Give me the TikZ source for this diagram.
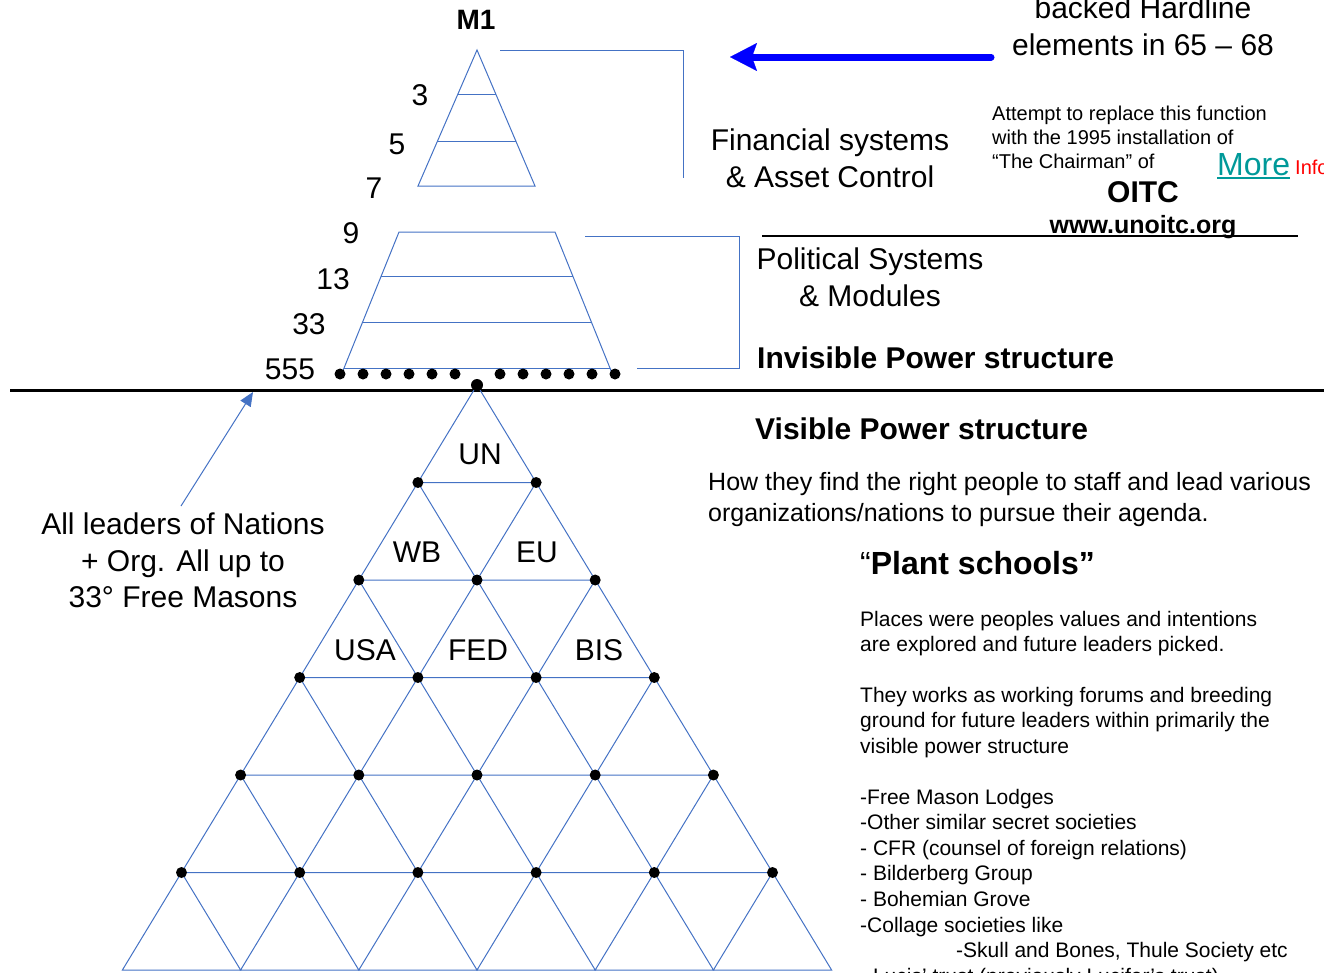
\documentclass[tikz,border=0pt]{standalone}
\usepackage{fontspec}
\setmainfont{Liberation Sans}
\usetikzlibrary{arrows.meta,calc}

\definecolor{gridblue}{RGB}{68,114,196}
\definecolor{pureblue}{RGB}{0,0,255}
\definecolor{moreteal}{RGB}{0,153,153}

\tikzset{
  gridln/.style={draw=gridblue, line width=1},
  bigtxt/.style={inner sep=0pt, font=\fontsize{30}{36.5}\selectfont},
  boldtxt/.style={inner sep=0pt, font=\fontsize{30}{36}\selectfont\bfseries},
  medtxt/.style={inner sep=0pt, font=\fontsize{25}{31}\selectfont},
  smalltxt/.style={inner sep=0pt, font=\fontsize{20}{24}\selectfont},
  listtxt/.style={inner sep=0pt, font=\fontsize{21}{25.6}\selectfont},
}

\begin{document}
\begin{tikzpicture}[x=1pt,y=1pt,yscale=-1,xscale=1]
	\useasboundingbox (0,0) rectangle (1324,972);
	
	%Shape: M1 pyramid
	\coordinate (m1top) at (477,50);
	\coordinate (m1left) at (418,186);
	\coordinate (m1right) at (535,186);
	\draw[gridln] (m1top) -- (m1left) -- (m1right) -- cycle;
	\draw[gridln] ($(m1top)!0.33!(m1left)$) -- ($(m1top)!0.33!(m1right)$);
	\draw[gridln] ($(m1top)!0.67!(m1left)$) -- ($(m1top)!0.67!(m1right)$);
	%Straight Lines: bracket financial
	\draw[gridln] (500,50) -- (683,50) -- (683,178);
	
	%Shape: political trapezoid
	\coordinate (tztl) at (399,232);
	\coordinate (tztr) at (555,232);
	\coordinate (tzbl) at (340,378);
	\coordinate (tzbr) at (614,378);
	\draw[gridln] (tzbl) -- (tztl) -- (tztr) -- (tzbr);
	\foreach \f in {0.308,0.623,0.932}
		\draw[gridln] ($(tztl)!\f!(tzbl)$) -- ($(tztr)!\f!(tzbr)$);
	%Straight Lines: bracket political
	\draw[gridln] (585,236) -- (739,236) -- (739,368) -- (637,368);
	
	%Shape: row of dots at 555
	\foreach \x in {340,363,386,409,432,455,500,523,546,569,592,615}
		\fill (\x,374) circle (5.5pt);
	
	%Straight Lines: visible / invisible border
	\draw[line width=3] (10,390) -- (1324,390);
	%Straight Lines: under www
	\draw[line width=2.5] (762,236) -- (1298,236);
	
	%Shape: triangle grid
	\foreach \k in {0,...,6}
		\foreach \j in {0,...,\k}
			\coordinate (g-\k-\j) at ({477+(2*\j-\k)*59.1},{385+\k*97.5});
	\foreach \k in {0,...,5}
		\foreach \j in {0,...,\k}{
			\pgfmathtruncatemacro{\kn}{\k+1}
			\pgfmathtruncatemacro{\jn}{\j+1}
			\draw[gridln] (g-\k-\j) -- (g-\kn-\j) -- (g-\kn-\jn) -- cycle;
		}
	\foreach \k in {1,...,5}
		\foreach \j in {0,...,\k}
			\fill (g-\k-\j) circle (5.5pt);
	\fill (g-0-0) circle (6pt);
	
	% Text Node
	\node[boldtxt, font=\fontsize{28}{34}\selectfont\bfseries] (m1) at (476,20) {M1};
	% Text Node
	\node[bigtxt] (lv3) at (420,95) {3};
	\node[bigtxt] (lv5) at (397,144) {5};
	\node[bigtxt] (lv7) at (374,188) {7};
	\node[bigtxt] (lv9) at (351,233) {9};
	\node[bigtxt] (lv13) at (333,279) {13};
	\node[bigtxt] (lv33) at (309,324) {33};
	\node[bigtxt] (lv555) at (290,369) {555};
	% Text Node
	\node[bigtxt, anchor=north, align=center] (fin) at (830,129) {Financial systems\\\& Asset Control};
	% Text Node
	\node[bigtxt, anchor=north, align=center] (pol) at (870,248) {Political Systems\\\& Modules};
	% Text Node
	\node[bigtxt, anchor=north, align=center, font=\fontsize{30}{37}\selectfont] (hard) at (1143,-3) {backed Hardline\\elements in 65 -- 68};
	% Text Node
	\node[smalltxt, anchor=north west, align=left] (attempt) at (992,105.4) {Attempt to replace this function\\with the 1995 installation of\\“The Chairman” of};
	% Text Node
	\node[inner sep=0pt, anchor=base west, text=moreteal, font=\fontsize{32}{38}\selectfont] (more) at (1217,175) {More};
	\draw[moreteal, line width=1.8] ($(more.base west)+(0,3)$) -- ($(more.base east)+(0,3)$);
	\node[smalltxt, anchor=base west, text=red] (info) at (1295,174) {Info};
	% Text Node
	\node[boldtxt, anchor=base] (oitc) at (1143,202) {OITC};
	\node[medtxt, font=\fontsize{25}{31}\selectfont\bfseries, anchor=base] (www) at (1143,233) {www.unoitc.org};
	% Text Node
	\node[boldtxt, anchor=base west] (invis) at (757,368) {Invisible Power structure};
	\node[boldtxt, anchor=base west] (vis) at (755,439) {Visible Power structure};
	% Text Node
	\node[medtxt, anchor=north west, align=left] (how) at (708,472) {How they find the right people to staff and lead various\\organizations/nations to pursue their agenda.};
	% Text Node
	\node[inner sep=0pt, anchor=base west, font=\fontsize{32}{38}\selectfont] (plant) at (860,574) {“\textbf{Plant schools”}};
	% Text Node
	\node[listtxt, anchor=north west, align=left] (places) at (860,610.7) {Places were peoples values and intentions\\are explored and future leaders picked.};
	\node[listtxt, anchor=north west, align=left] (works) at (860,686.7) {They works as working forums and breeding\\ground for future leaders within primarily the\\visible power structure};
	\node[listtxt, anchor=north west, align=left] (lodges) at (860,788.7) {-Free Mason Lodges\\-Other similar secret societies\\- CFR (counsel of foreign relations)\\- Bilderberg Group\\- Bohemian Grove\\-Collage societies like\\\hspace*{96pt}-Skull and Bones, Thule Society etc\\- Lucis’ trust (previously Lucifer’s trust)};
	
	% Text Node: grid labels
	\node[bigtxt] (un) at (480,454) {UN};
	\node[bigtxt] (wb) at (417,552) {WB};
	\node[bigtxt] (eu) at (537,552) {EU};
	\node[bigtxt] (usa) at (365,650) {USA};
	\node[bigtxt] (fed) at (478,650) {FED};
	\node[bigtxt] (bis) at (599,650) {BIS};
	% Text Node
	\node[bigtxt, anchor=north, align=center] (lead) at (183,513) {All leaders of Nations\\+ Org. All up to\\33° Free Masons};
	
	%Straight Lines: arrows
	\coordinate (ldrtail) at (181,506);
	\coordinate (ldrtip) at (253,392);
	\draw[gridblue, line width=1, -{Triangle[length=14pt,width=12pt]}] (ldrtail) -- (ldrtip);
	\coordinate (hardtail) at (991,57);
	\coordinate (hardtip) at (730,57);
	\draw[pureblue, line width=7, line cap=round, -{Stealth[length=27pt,width=28pt,inset=5pt,line width=0.1pt]}] (hardtail) -- (hardtip);
\end{tikzpicture}
\end{document}
